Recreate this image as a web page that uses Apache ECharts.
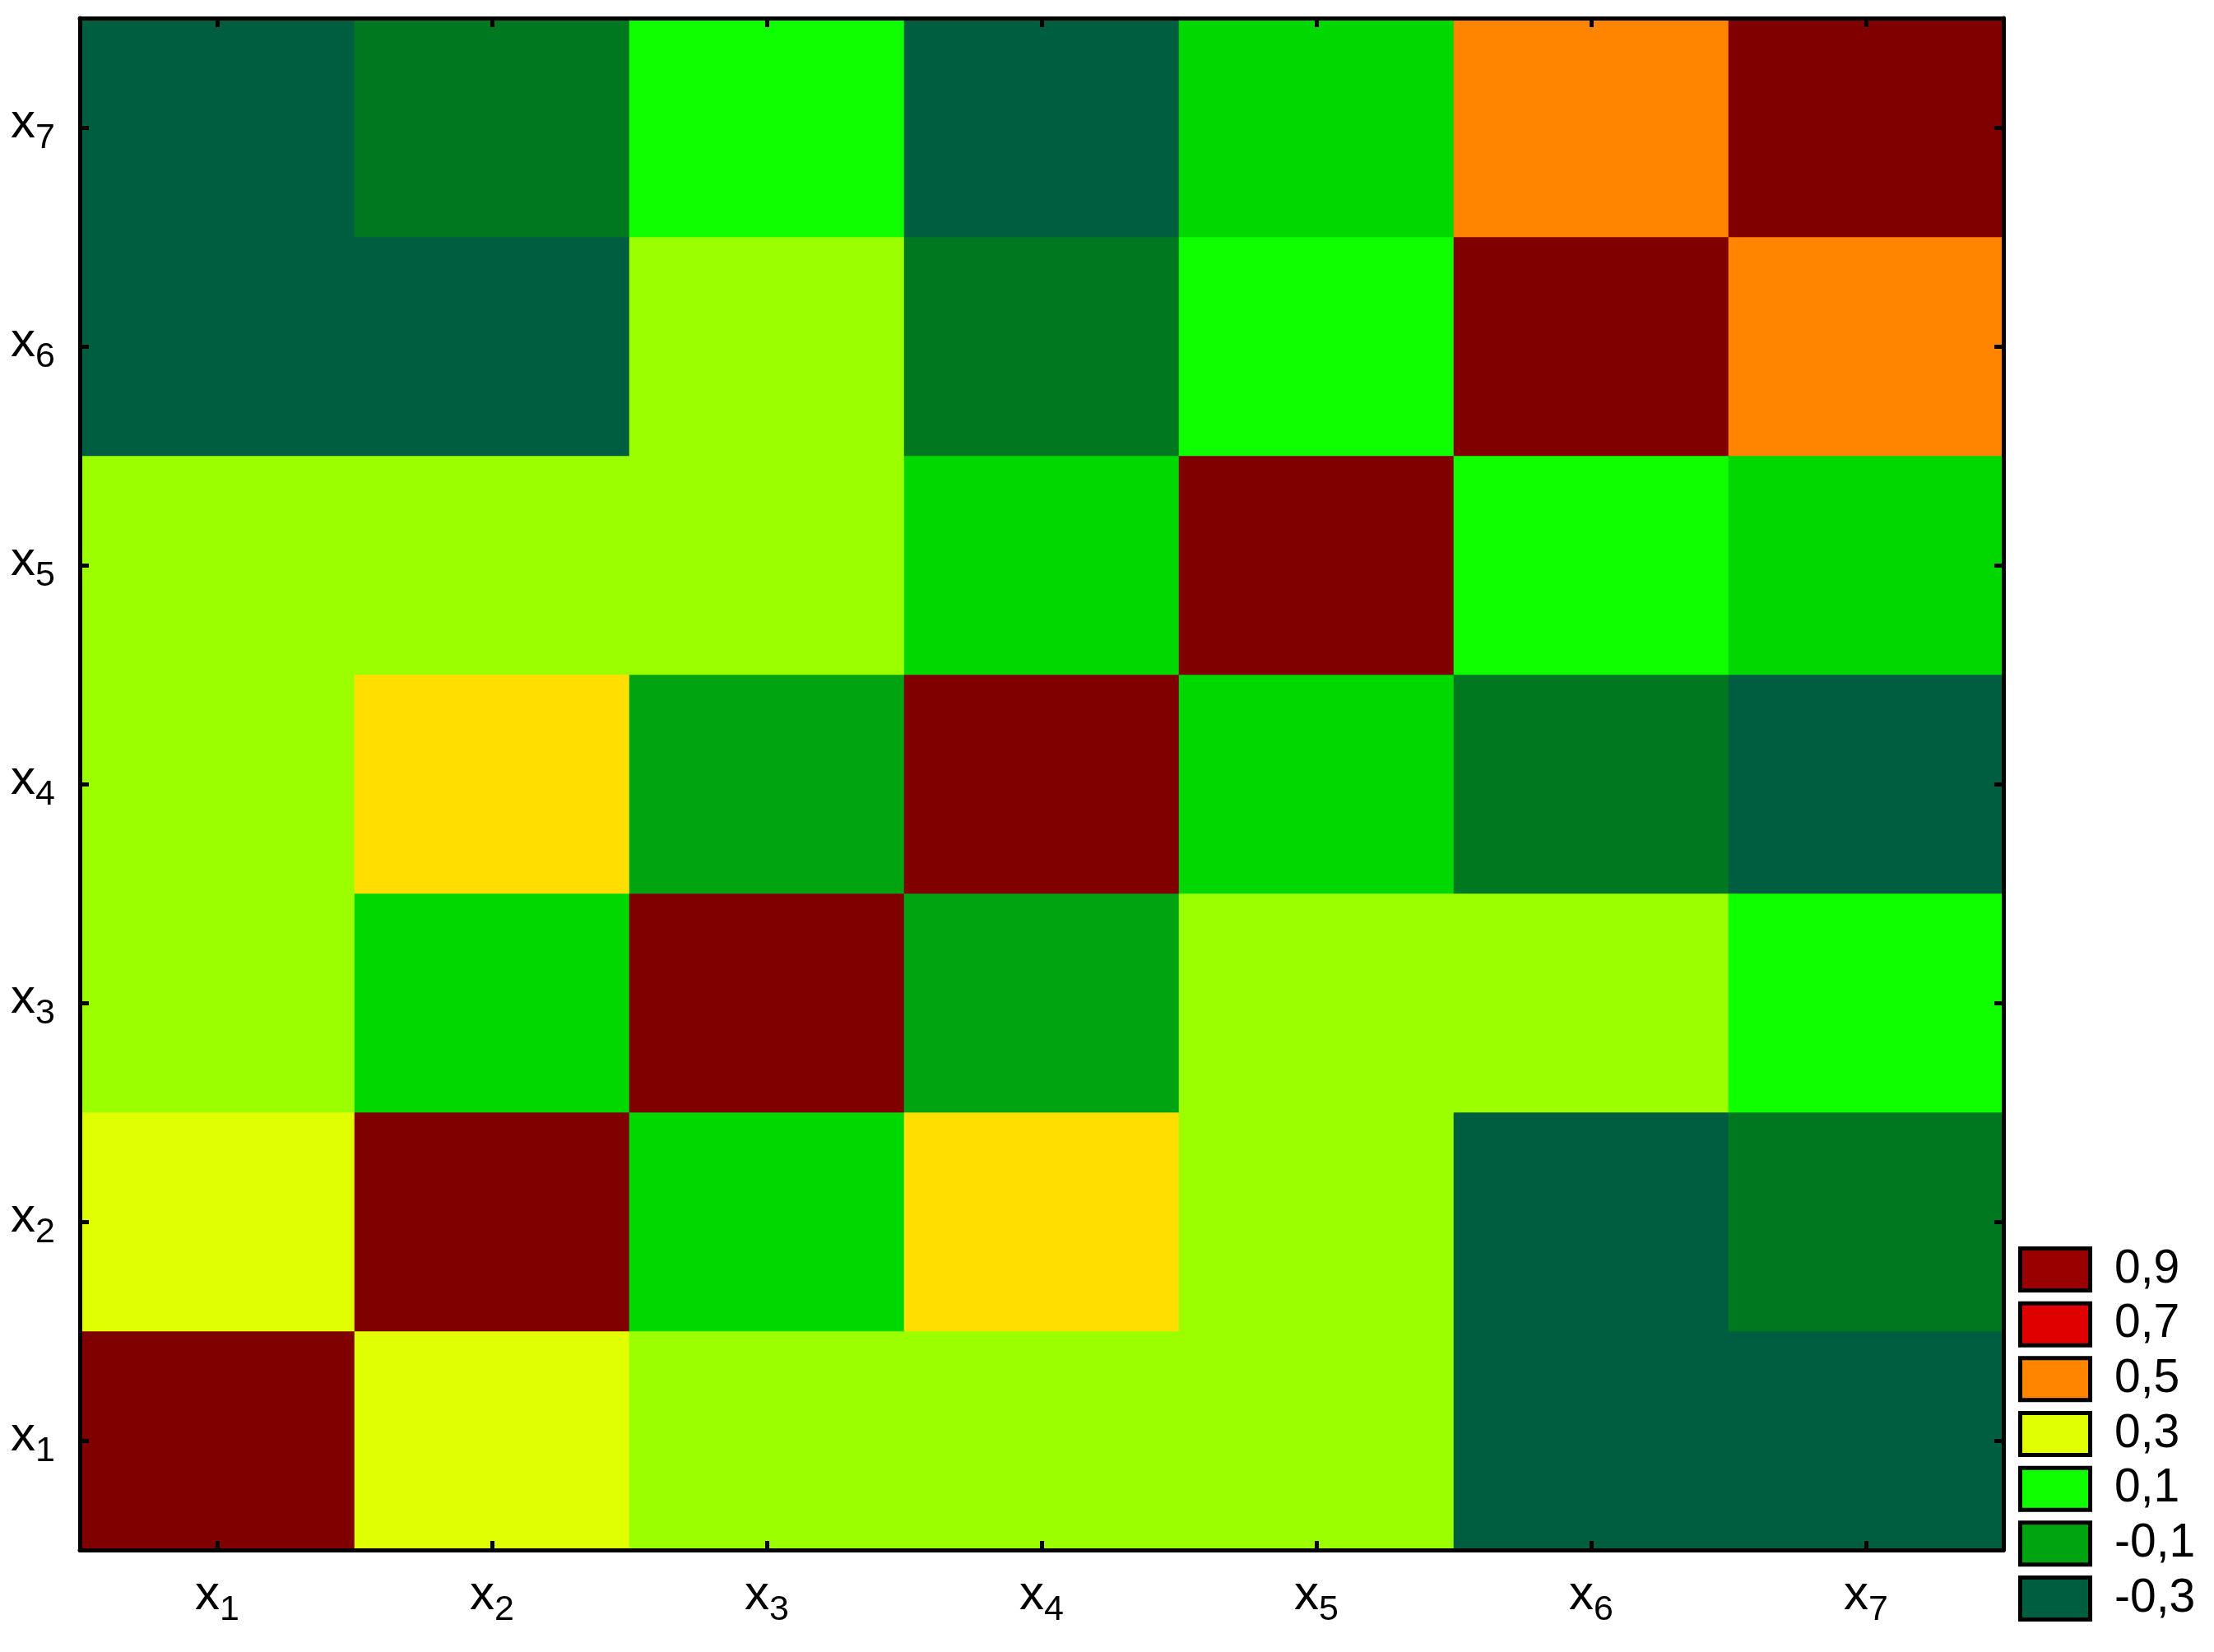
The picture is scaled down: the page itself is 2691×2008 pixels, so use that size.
<!DOCTYPE html>
<html>
<head>
<meta charset="utf-8">
<script src="https://cdn.jsdelivr.net/npm/echarts@6/dist/echarts.min.js"></script>
<style>
  html, body { margin: 0; padding: 0; background: #fff; }
  #chart { width: 2691px; height: 2008px; }
</style>
</head>
<body>
<div id="chart"></div>
<script>
// Variable names on both axes
const VARS = ['x1', 'x2', 'x3', 'x4', 'x5', 'x6', 'x7'];

// Correlation matrix, rows = y variable (x1 at bottom), cols = x variable
const ROW_X1 = [1.00, 0.31, 0.22, 0.19, 0.21, -0.32, -0.29];
const ROW_X2 = [0.31, 1.00, 0.02, 0.41, 0.18, -0.34, -0.21];
const ROW_X3 = [0.22, 0.02, 1.00, -0.12, 0.23, 0.20, 0.09];
const ROW_X4 = [0.19, 0.41, -0.12, 1.00, -0.02, -0.18, -0.30];
const ROW_X5 = [0.21, 0.18, 0.23, -0.02, 1.00, 0.11, 0.03];
const ROW_X6 = [-0.32, -0.34, 0.20, -0.18, 0.11, 1.00, 0.52];
const ROW_X7 = [-0.29, -0.21, 0.09, -0.30, 0.03, 0.52, 1.00];
const ROWS = [ROW_X1, ROW_X2, ROW_X3, ROW_X4, ROW_X5, ROW_X6, ROW_X7];

// Contour levels (step 0.1) and their fill colours
const LEVELS = [-0.3, -0.2, -0.1, 0.0, 0.1, 0.2, 0.3, 0.4, 0.5, 0.6, 0.7, 0.8, 0.9, 1.0];
const LEVEL_COLORS = [
  '#005e40', '#007820', '#00a410', '#00d800', '#10ff00', '#9cff00', '#e0ff00',
  '#ffde00', '#ff8400', '#ff4000', '#e00000', '#bb0000', '#990000', '#800000'
];

// Legend entries shown at the right
const LEGEND_LABELS = ['0,9', '0,7', '0,5', '0,3', '0,1', '-0,1', '-0,3'];
const LEGEND_COLORS = ['#990000', '#e00000', '#ff8400', '#e0ff00', '#10ff00', '#00a410', '#005e40'];

const FONT = '"Liberation Sans", Arial, sans-serif';

const data = [];
ROWS.forEach((row, y) => {
  row.forEach((v, x) => data.push([x, y, v]));
});

const pieces = LEVELS.map((lv, i) => {
  const p = { color: LEVEL_COLORS[i] };
  if (i > 0) p.gte = +(lv - 0.05).toFixed(2);
  if (i < LEVELS.length - 1) p.lt = +(lv + 0.05).toFixed(2);
  return p;
});

const richLabel = {
  x: { fontSize: 60, fontFamily: FONT, color: '#000', lineHeight: 60, padding: [0, 0, 10, 0] },
  s: { fontSize: 43, fontFamily: FONT, color: '#000', lineHeight: 43, padding: [26, 0, 0, 0] }
};
const labelFmt = (v) => `{x|x}{s|${v.slice(1)}}`;

const axisLine = { show: true, onZero: false, lineStyle: { color: '#000', width: 5 } };
const axisTick = { show: true, inside: true, alignWithLabel: true, length: 11, lineStyle: { color: '#000', width: 5 } };

const legendGraphics = [];
LEGEND_LABELS.forEach((lab, i) => {
  const top = 1517.5 + i * 66.67;
  legendGraphics.push({
    type: 'rect',
    shape: { x: 2455.5, y: top, width: 85, height: 51 },
    style: { fill: LEGEND_COLORS[i], stroke: '#000', lineWidth: 5 }
  });
  legendGraphics.push({
    type: 'text',
    x: 2570,
    y: top + 25.5,
    style: {
      text: lab, fill: '#000', font: `57px ${FONT}`,
      textAlign: 'left', textVerticalAlign: 'middle',
      align: 'left', verticalAlign: 'middle'
    }
  });
});

const chart = echarts.init(document.getElementById('chart'));
chart.setOption({
  backgroundColor: '#fff',
  animation: false,
  grid: { left: 97, right: 256, top: 22, bottom: 124 },
  xAxis: [
    {
      type: 'category', data: VARS, position: 'bottom', z: 10,
      axisLine, axisTick, splitLine: { show: false },
      axisLabel: { formatter: labelFmt, rich: richLabel, margin: 30 }
    },
    {
      type: 'category', data: VARS, position: 'top', z: 10,
      axisLine, axisTick, splitLine: { show: false }, axisLabel: { show: false }
    }
  ],
  yAxis: [
    {
      type: 'category', data: VARS, position: 'left', z: 10,
      axisLine, axisTick, splitLine: { show: false },
      axisLabel: { formatter: labelFmt, rich: richLabel, margin: 30 }
    },
    {
      type: 'category', data: VARS, position: 'right', z: 10,
      axisLine, axisTick, splitLine: { show: false }, axisLabel: { show: false }
    }
  ],
  visualMap: {
    type: 'piecewise', show: false, seriesIndex: 0, dimension: 2, pieces
  },
  graphic: legendGraphics,
  series: [{
    type: 'heatmap',
    xAxisIndex: 0, yAxisIndex: 0,
    data,
    itemStyle: { borderWidth: 0 },
    emphasis: { disabled: true }
  }]
});
</script>
</body>
</html>
